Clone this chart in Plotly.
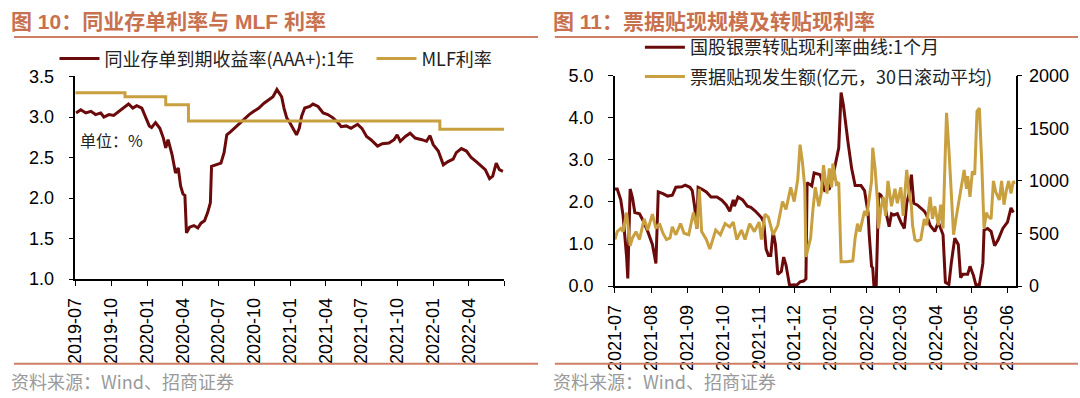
import plotly.graph_objects as go

# ---------------- Left panel data: 同业存单利率与 MLF 利率 ----------------
cd_dates = [
    "2019-07-03", "2019-07-15", "2019-07-28", "2019-08-10", "2019-08-22", "2019-09-04",
    "2019-09-12", "2019-09-25", "2019-10-07", "2019-10-20", "2019-11-02", "2019-11-14",
    "2019-11-25", "2019-12-05", "2019-12-18", "2019-12-25", "2020-01-06", "2020-01-12",
    "2020-01-22", "2020-02-02", "2020-02-11", "2020-02-17", "2020-02-23", "2020-03-04",
    "2020-03-13", "2020-03-20", "2020-03-26", "2020-04-01", "2020-04-06", "2020-04-10",
    "2020-04-18", "2020-04-29", "2020-05-09", "2020-05-17", "2020-05-26", "2020-06-03",
    "2020-06-10", "2020-06-13", "2020-06-24", "2020-07-07", "2020-07-15", "2020-07-22",
    "2020-08-01", "2020-08-14", "2020-08-26", "2020-09-08", "2020-09-17", "2020-09-29",
    "2020-10-12", "2020-10-25", "2020-11-06", "2020-11-17", "2020-11-27", "2020-12-09",
    "2020-12-15", "2020-12-22", "2020-12-30", "2021-01-08", "2021-01-16", "2021-01-23",
    "2021-01-29", "2021-02-06", "2021-02-19", "2021-02-27", "2021-03-12", "2021-03-25",
    "2021-04-06", "2021-04-19", "2021-05-02", "2021-05-10", "2021-05-23", "2021-06-04",
    "2021-06-21", "2021-07-02", "2021-07-14", "2021-07-25", "2021-08-11", "2021-08-23",
    "2021-09-09", "2021-09-22", "2021-09-30", "2021-10-08", "2021-10-21", "2021-11-02",
    "2021-11-15", "2021-12-02", "2021-12-14", "2021-12-23", "2021-12-31", "2022-01-13",
    "2022-01-26", "2022-02-07", "2022-02-20", "2022-02-28", "2022-03-13", "2022-03-26",
    "2022-04-07", "2022-04-20", "2022-05-03", "2022-05-13", "2022-05-24", "2022-06-01",
    "2022-06-10", "2022-06-18", "2022-06-27",
]
cd_values = [
    3.05, 3.09, 3.05, 3.07, 3.03, 3.05,
    3.00, 3.03, 3.02, 3.07, 3.11, 3.16,
    3.11, 3.14, 3.11, 3.03, 2.89, 2.87,
    2.93, 2.86, 2.74, 2.62, 2.72, 2.54,
    2.31, 2.37, 2.15, 2.05, 2.03, 1.57,
    1.64, 1.66, 1.63, 1.69, 1.72, 1.82,
    1.94, 2.39, 2.41, 2.43, 2.56, 2.78,
    2.82, 2.88, 2.93, 2.99, 3.03, 3.07,
    3.11, 3.17, 3.21, 3.25, 3.34, 3.25,
    3.11, 2.99, 2.93, 2.84, 2.78, 2.86,
    3.01, 3.11, 3.13, 3.16, 3.13, 3.05,
    3.03, 2.99, 2.93, 2.88, 2.89, 2.86,
    2.91, 2.86, 2.76, 2.72, 2.64, 2.67,
    2.68, 2.72, 2.78, 2.70, 2.76, 2.80,
    2.74, 2.72, 2.70, 2.77, 2.66, 2.58,
    2.41, 2.45, 2.48, 2.56, 2.61, 2.58,
    2.50, 2.45, 2.39, 2.35, 2.24, 2.27,
    2.43, 2.35, 2.33,
]
mlf_dates = ["2019-07-01", "2019-11-05", "2020-02-17", "2020-04-15", "2022-01-17", "2022-06-30"]
mlf_values = [3.30, 3.25, 3.15, 2.95, 2.85, 2.85]

left_tick_dates = ["2019-07-01", "2019-10-01", "2020-01-01", "2020-04-01", "2020-07-01",
                   "2020-10-01", "2021-01-01", "2021-04-01", "2021-07-01", "2021-10-01",
                   "2022-01-01", "2022-04-01", "2022-07-01"]
left_tick_labels = ["2019-07", "2019-10", "2020-01", "2020-04", "2020-07", "2020-10",
                    "2021-01", "2021-04", "2021-07", "2021-10", "2022-01", "2022-04", ""]

# ---------------- Right panel data: 票据贴现规模及转贴现利率 ----------------
rate_dates = [
    "2021-07-01", "2021-07-03", "2021-07-06", "2021-07-08", "2021-07-11", "2021-07-12",
    "2021-07-14", "2021-07-16", "2021-07-18", "2021-07-22", "2021-07-25", "2021-07-29",
    "2021-08-02", "2021-08-05", "2021-08-07", "2021-08-11", "2021-08-15", "2021-08-19",
    "2021-08-22", "2021-08-27", "2021-08-30", "2021-09-03", "2021-09-05", "2021-09-07",
    "2021-09-09", "2021-09-10", "2021-09-13", "2021-09-17", "2021-09-21", "2021-09-26",
    "2021-09-30", "2021-10-04", "2021-10-07", "2021-10-10", "2021-10-11", "2021-10-14",
    "2021-10-18", "2021-10-22", "2021-10-25", "2021-10-29", "2021-11-03", "2021-11-05",
    "2021-11-07", "2021-11-09", "2021-11-11", "2021-11-13", "2021-11-15", "2021-11-17",
    "2021-11-20", "2021-11-22", "2021-11-24", "2021-11-27", "2021-12-01", "2021-12-03",
    "2021-12-06", "2021-12-09", "2021-12-11", "2021-12-12", "2021-12-16", "2021-12-18",
    "2021-12-23", "2021-12-24", "2021-12-27", "2021-12-31", "2022-01-03", "2022-01-05",
    "2022-01-07", "2022-01-08", "2022-01-10", "2022-01-12", "2022-01-16", "2022-01-19",
    "2022-01-22", "2022-01-27", "2022-01-30", "2022-02-02", "2022-02-03", "2022-02-05",
    "2022-02-06", "2022-02-07", "2022-02-09", "2022-02-11", "2022-02-13", "2022-02-16",
    "2022-02-18", "2022-02-20", "2022-02-22", "2022-02-24", "2022-02-27", "2022-03-02",
    "2022-03-05", "2022-03-07", "2022-03-09", "2022-03-11", "2022-03-13", "2022-03-16",
    "2022-03-22", "2022-03-24", "2022-03-27", "2022-03-31", "2022-04-03", "2022-04-07",
    "2022-04-09", "2022-04-12", "2022-04-14", "2022-04-17", "2022-04-20", "2022-04-22",
    "2022-04-24", "2022-04-28", "2022-04-30", "2022-05-03", "2022-05-05", "2022-05-08",
    "2022-05-11", "2022-05-12", "2022-05-15", "2022-05-18", "2022-05-21", "2022-05-24",
    "2022-05-28", "2022-06-01", "2022-06-04", "2022-06-06",
]
rate_values = [
    2.31, 2.31, 2.05, 1.67, 0.69, 0.18,
    2.31, 2.10, 1.75, 1.72, 1.56, 1.30,
    0.99, 0.54, 2.24, 2.20, 2.14, 2.16,
    2.35, 2.36, 2.40, 2.35, 2.27, 1.90,
    1.37, 2.35, 2.31, 2.24, 2.12, 2.12,
    2.05, 1.93, 1.78, 2.05, 1.90, 2.12,
    2.05, 1.90, 1.87, 1.78, 1.63, 1.52,
    0.88, 0.73, 0.73, 1.30, 0.99, 0.28,
    0.35, 0.69, 0.50, 0.02, 0.03, 0.02,
    0.10, 0.12, 0.17, 2.46, 2.38, 2.69,
    2.65, 2.57, 2.27, 2.31, 2.61, 2.91,
    3.21, 3.29, 4.60, 4.30, 3.40, 2.80,
    2.39, 2.39, 2.27, 1.75, 1.22, 0.47,
    0.43, 0.02, 0.02, 2.20, 2.16, 1.97,
    1.67, 1.41, 1.72, 1.69, 1.72, 1.52,
    1.37, 1.97, 2.20, 2.65, 1.97, 1.93,
    1.78, 1.69, 1.44, 1.30, 1.52, 1.22,
    0.09, 0.04, 0.54, 1.14, 0.99, 0.20,
    0.28, 0.28, 0.47, 0.25, 0.03, 0.03,
    0.54, 1.33, 1.37, 1.30, 0.96, 1.10,
    1.37, 1.52, 1.86, 1.75,
]

amount_dates = [
    "2021-07-01", "2021-07-03", "2021-07-06", "2021-07-08", "2021-07-11", "2021-07-14",
    "2021-07-16", "2021-07-19", "2021-07-22", "2021-07-26", "2021-07-29", "2021-08-02",
    "2021-08-05", "2021-08-08", "2021-08-11", "2021-08-14", "2021-08-17", "2021-08-19",
    "2021-08-22", "2021-08-26", "2021-08-29", "2021-09-02", "2021-09-06", "2021-09-09",
    "2021-09-11", "2021-09-13", "2021-09-17", "2021-09-20", "2021-09-25", "2021-09-29",
    "2021-10-03", "2021-10-07", "2021-10-10", "2021-10-13", "2021-10-17", "2021-10-20",
    "2021-10-24", "2021-10-28", "2021-11-01", "2021-11-03", "2021-11-06", "2021-11-09",
    "2021-11-13", "2021-11-17", "2021-11-21", "2021-11-24", "2021-11-28", "2021-12-01",
    "2021-12-04", "2021-12-06", "2021-12-08", "2021-12-10", "2021-12-11", "2021-12-15",
    "2021-12-17", "2021-12-19", "2021-12-22", "2021-12-24", "2021-12-26", "2021-12-29",
    "2021-12-31", "2022-01-02", "2022-01-03", "2022-01-06", "2022-01-08", "2022-01-10",
    "2022-01-15", "2022-01-20", "2022-01-22", "2022-01-24", "2022-01-26", "2022-01-28",
    "2022-01-30", "2022-02-01", "2022-02-03", "2022-02-05", "2022-02-06", "2022-02-08",
    "2022-02-10", "2022-02-11", "2022-02-13", "2022-02-15", "2022-02-17", "2022-02-19",
    "2022-02-22", "2022-02-25", "2022-02-27", "2022-03-02", "2022-03-04", "2022-03-07",
    "2022-03-09", "2022-03-11", "2022-03-12", "2022-03-14", "2022-03-16", "2022-03-19",
    "2022-03-22", "2022-03-24", "2022-03-27", "2022-03-29", "2022-03-31", "2022-04-03",
    "2022-04-05", "2022-04-07", "2022-04-09", "2022-04-10", "2022-04-12", "2022-04-14",
    "2022-04-16", "2022-04-18", "2022-04-20", "2022-04-23", "2022-04-25", "2022-04-27",
    "2022-04-28", "2022-04-30", "2022-05-02", "2022-05-04", "2022-05-06", "2022-05-08",
    "2022-05-10", "2022-05-12", "2022-05-14", "2022-05-15", "2022-05-18", "2022-05-20",
    "2022-05-22", "2022-05-25", "2022-05-27", "2022-05-29", "2022-05-31", "2022-06-02",
    "2022-06-04", "2022-06-06", "2022-06-07",
]
amount_values = [
    443, 518, 548, 518, 699, 383,
    458, 518, 443, 639, 533, 684,
    548, 594, 503, 443, 458, 563,
    488, 594, 503, 488, 699, 548,
    925, 518, 443, 352, 533, 488,
    594, 563, 609, 443, 533, 443,
    594, 518, 609, 443, 684, 654,
    488, 578, 804, 729, 940, 804,
    1015, 1346, 1181, 940, 277, 458,
    729, 940, 759, 880, 1151, 880,
    1120, 940, 1165, 970, 985, 232,
    232, 240, 458, 594, 518, 609,
    714, 669, 849, 1000, 1316, 1120,
    819, 548, 744, 849, 669, 1000,
    759, 925, 789, 940, 669, 1105,
    880, 759, 578, 443, 428, 443,
    639, 578, 849, 639, 759, 578,
    774, 548, 1301, 1648, 1301, 819,
    488, 639, 759, 970, 1105, 925,
    1045, 849, 1090, 1060, 1662, 1693,
    1181, 548, 699, 669, 639, 1000,
    895, 819, 1000, 774, 910, 1000,
    880, 1000, 970,
]

# ---------------- Styling ----------------
RED = "#6b0a0a"
GOLD = "#c9a03f"
TITLE_C = "#c8714f"
RULE_C = "#cf7f66"
TXT = "Liberation Sans, Arial, Noto Sans CJK SC, sans-serif"
CJK = "Noto Sans CJK SC, Liberation Sans, sans-serif"

W, H = 1080, 398


def px(x):
    return x / W


def py(y):
    return 1 - y / H


fig = go.Figure()

fig.add_trace(go.Scatter(
    x=cd_dates, y=cd_values, mode="lines", name="同业存单到期收益率(AAA+):1年",
    line=dict(color=RED, width=3), xaxis="x", yaxis="y", legend="legend"))
fig.add_trace(go.Scatter(
    x=mlf_dates, y=mlf_values, mode="lines", name="MLF利率", line_shape="hv",
    line=dict(color=GOLD, width=3), xaxis="x", yaxis="y", legend="legend"))

fig.add_trace(go.Scatter(
    x=rate_dates, y=rate_values, mode="lines", name="国股银票转贴现利率曲线:1个月",
    line=dict(color=RED, width=3), xaxis="x2", yaxis="y2", legend="legend2",
    legendgroup="g1"))
fig.add_trace(go.Scatter(
    x=amount_dates, y=amount_values, mode="lines", name="票据贴现发生额(亿元，30日滚动平均)",
    line=dict(color=GOLD, width=3), xaxis="x2", yaxis="y3", legend="legend2",
    legendgroup="g2"))

axis_common = dict(showline=True, linecolor="black", linewidth=1.5, ticks="outside",
                   ticklen=5, tickwidth=1.3, tickcolor="black", showgrid=False,
                   zeroline=False, tickfont=dict(family=TXT, size=18, color="black"))
xfont = dict(family=TXT, size=18, color="black")

fig.update_layout(
    width=W, height=H, autosize=False,
    margin=dict(l=0, r=0, t=0, b=0),
    paper_bgcolor="white", plot_bgcolor="white",
    xaxis=dict(domain=[px(66), px(500)], type="date",
               range=["2019-07-01", "2022-07-01"],
               tickmode="array", tickvals=left_tick_dates, ticktext=left_tick_labels,
               tickangle=-90, anchor="y", ticklabelstandoff=5,
               **{**axis_common, "tickfont": xfont}),
    yaxis=dict(domain=[py(283.3), py(70)], range=[1.0, 3.5], dtick=0.5, tickformat=".1f",
               anchor="x", ticklabelstandoff=11, **axis_common),
    xaxis2=dict(domain=[px(611.7), px(1017)], type="date",
                range=["2021-07-01", "2022-06-08"], dtick="M1", tick0="2021-07-01",
                tickformat="%Y-%m", tickangle=-90, anchor="y2", ticklabelstandoff=5,
                **{**axis_common, "tickfont": xfont}),
    yaxis2=dict(domain=[py(290.7), py(69.3)], range=[0, 5], dtick=1, tickformat=".1f",
                anchor="x2", ticklabelstandoff=11, **axis_common),
    yaxis3=dict(range=[0, 2000], dtick=500, overlaying="y2", side="right", anchor="x2",
                ticklabelstandoff=3, **axis_common),
    legend=dict(orientation="h", x=px(45), xanchor="left", y=py(32), yanchor="top",
                bgcolor="rgba(0,0,0,0)", font=dict(family=CJK, size=18, color="#222"),
                itemwidth=40, tracegroupgap=0, traceorder="normal",
                entrywidth=262, entrywidthmode="pixels"),
    legend2=dict(orientation="v", x=px(637), xanchor="left", y=py(20), yanchor="top",
                 bgcolor="rgba(0,0,0,0)", font=dict(family=CJK, size=18, color="#222"),
                 itemwidth=40, tracegroupgap=3, traceorder="grouped"),
    showlegend=True,
)

annotations = [
    dict(text="<b>图 10：同业存单利率与 MLF 利率</b>", x=px(-1), y=py(12), xref="paper", yref="paper",
         xanchor="left", yanchor="middle", showarrow=False,
         font=dict(family=TXT, size=21, color=TITLE_C)),
    dict(text="<b>图 11：票据贴现规模及转贴现利率</b>", x=px(547), y=py(12), xref="paper", yref="paper",
         xanchor="left", yanchor="middle", showarrow=False,
         font=dict(family=TXT, size=21, color=TITLE_C)),
    dict(text="资料来源：Wind、招商证券", x=px(-1), y=py(391), xref="paper", yref="paper",
         xanchor="left", yanchor="middle", showarrow=False,
         font=dict(family=CJK, size=18, color="#9a9a9a")),
    dict(text="资料来源：Wind、招商证券", x=px(547), y=py(391), xref="paper", yref="paper",
         xanchor="left", yanchor="middle", showarrow=False,
         font=dict(family=CJK, size=18, color="#9a9a9a")),
    dict(text="单位：%", x=px(69), y=py(137), xref="paper", yref="paper",
         xanchor="left", yanchor="middle", showarrow=False,
         font=dict(family=CJK, size=16, color="#222")),
]

shapes = [
    dict(type="line", xref="paper", yref="paper", x0=px(4), x1=px(534), y0=py(28.5), y1=py(28.5),
         line=dict(color=RULE_C, width=2)),
    dict(type="line", xref="paper", yref="paper", x0=px(551), x1=px(1080), y0=py(28.5), y1=py(28.5),
         line=dict(color=RULE_C, width=2)),
    dict(type="line", xref="paper", yref="paper", x0=px(4), x1=px(534), y0=py(372.5), y1=py(372.5),
         line=dict(color=RULE_C, width=2)),
    dict(type="line", xref="paper", yref="paper", x0=px(551), x1=px(1080), y0=py(372.5), y1=py(372.5),
         line=dict(color=RULE_C, width=2)),
]

fig.update_layout(annotations=annotations, shapes=shapes)

fig.write_html("out.html", config={"displayModeBar": False},
               post_script="document.body.style.margin='0px';")
